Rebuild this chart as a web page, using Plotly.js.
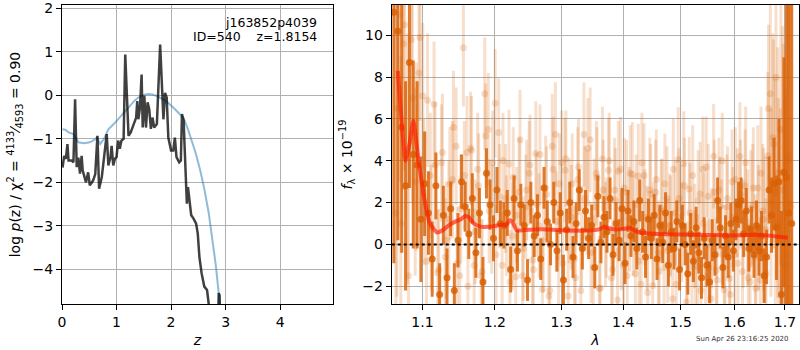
<!DOCTYPE html>
<html>
<head>
<meta charset="utf-8">
<script src="https://cdn.plot.ly/plotly-3.0.1.min.js"></script>
<style>html,body{margin:0;padding:0;background:#fff;}#chart{width:800px;height:350px;}</style>
</head>
<body>
<div id="chart"></div>
<script>
// ---- Left panel: redshift probability ----
const blueZ = [0.01,0.06,0.12,0.21,0.30,0.40,0.51,0.60,0.64,0.70,0.77,0.85,0.95,1.06,1.15,1.25,1.33,1.40,1.50,1.58,1.66,1.73,1.80,1.90,2.04,2.14,2.23,2.31,2.38,2.45,2.53,2.61,2.69,2.76,2.82,2.87,2.91];
const blueLogP = [-0.78,-0.79,-0.85,-0.89,-1.08,-1.10,-1.08,-1.02,-0.97,-1.12,-1.00,-0.78,-0.66,-0.51,-0.38,-0.24,-0.12,-0.05,0.01,0.03,0.02,-0.01,-0.05,-0.12,-0.28,-0.40,-0.52,-0.78,-1.04,-1.32,-1.70,-2.15,-2.70,-3.30,-3.90,-4.50,-5.10];

const darkZ = [0.01,0.04,0.07,0.10,0.12,0.18,0.21,0.24,0.27,0.30,0.33,0.36,0.38,0.44,0.48,0.51,0.57,0.61,0.65,0.68,0.73,0.77,0.82,0.85,0.89,0.91,0.94,0.97,1.00,1.03,1.06,1.09,1.13,1.16,1.19,1.22,1.26,1.31,1.36,1.38,1.40,1.43,1.46,1.48,1.51,1.54,1.57,1.60,1.63,1.66,1.69,1.74,1.77,1.80,1.84,1.86,1.89,1.92,1.95,2.00,2.04,2.07,2.10,2.15,2.18,2.20,2.23,2.26,2.29,2.31,2.34,2.37,2.41,2.46,2.49,2.52,2.56,2.61,2.66,2.69,2.71,2.86,2.875,2.89,2.90];
const darkLogP = [-1.66,-1.39,-1.46,-1.12,-1.50,-1.50,-1.54,-0.09,-1.65,-1.43,-1.80,-1.39,-1.73,-2.00,-1.77,-2.07,-1.96,-1.81,-0.93,-2.15,-1.88,-1.42,-0.89,-1.61,-1.42,-1.16,-1.61,-1.46,-1.42,-1.04,-1.23,-1.04,-1.00,0.94,-0.05,-0.93,-0.85,-0.66,-0.51,-0.13,-0.55,-0.28,0.48,-0.74,-0.01,-0.74,-0.16,-0.32,-0.77,-0.51,-0.74,-0.66,0.22,1.17,0.03,-0.55,0.06,-0.05,-0.97,-1.27,-1.27,-0.97,-1.42,-1.54,-1.50,-0.43,-0.58,-1.73,-2.49,-2.11,-2.49,-2.76,-2.83,-2.95,-3.18,-3.72,-4.09,-4.40,-4.48,-4.79,-5.30,-5.30,-4.55,-4.60,-5.30];

const zTicks = [0,1,2,3,4];
const logpTicks = [-4,-3,-2,-1,0,1,2];

// ---- Right panel: spectrum ----
const lamDark = [1.063,1.068,1.073,1.078,1.083,1.088,1.093,1.098,1.103,1.108,1.113,1.118,1.123,1.128,1.133,1.138,1.143,1.148,1.153,1.158,1.163,1.168,1.173,1.178,1.183,1.188,1.193,1.198,1.203,1.208,1.213,1.218,1.223,1.228,1.233,1.238,1.243,1.248,1.253,1.258,1.263,1.268,1.273,1.278,1.283,1.288,1.293,1.298,1.303,1.308,1.313,1.318,1.323,1.328,1.333,1.338,1.343,1.348,1.353,1.358,1.363,1.368,1.373,1.378,1.383,1.388,1.393,1.398,1.403,1.408,1.413,1.418,1.423,1.428,1.433,1.438,1.443,1.448,1.453,1.458,1.463,1.468,1.473,1.478,1.483,1.488,1.493,1.498,1.503,1.508,1.513,1.518,1.523,1.528,1.533,1.538,1.543,1.548,1.553,1.558,1.563,1.568,1.573,1.578,1.583,1.588,1.593,1.598,1.603,1.608,1.613,1.618,1.623,1.628,1.633,1.638,1.643,1.648,1.653,1.658,1.663,1.668,1.673,1.678,1.683,1.688,1.693,1.698,1.703,1.708,1.714];
const fluxDark = [11.1,10.2,5.6,2.8,8.7,4.3,3.8,1.2,2.9,1.5,-0.7,2.8,-2.4,1.4,-1.6,1.7,-2.2,0.2,3.0,1.8,0.5,2.2,-0.4,1.5,-1.8,3.4,1.9,0.3,2.6,1.0,0.9,1.5,-1.2,2.2,-0.3,1.9,0.9,-1.7,2.0,0.4,1.4,-0.7,2.7,1.1,0.0,2.0,-0.3,1.5,-1.7,0.7,2.0,-0.6,1.0,2.6,-0.2,1.6,0.3,0.9,-1.1,2.3,0.1,1.3,0.6,2.2,-0.5,1.0,0.2,1.7,-0.9,1.6,0.4,1.1,-0.2,2.1,0.6,-0.6,1.2,0.3,1.4,-0.7,0.9,0.1,1.5,-1.0,0.6,-0.2,1.1,-1.2,0.9,0.0,-1.4,0.5,-0.8,0.8,-0.4,-1.6,0.3,-1.0,-1.8,0.2,-0.5,2.1,0.8,-1.1,0.4,-0.6,1.0,-0.3,1.2,1.9,2.1,0.5,1.6,-0.2,0.7,-0.5,0.9,-0.3,0.4,-1.5,-0.6,2.6,1.4,2.9,0.8,3.0,-2.4,3.45,3.2,1.5,1.0];
const errDark = [12,10,6,5,6,4.5,4,3,2.5,2,1.8,1.6,1.5,1.4,1.4,1.3,1.3,1.3,1.3,1.2,1.2,1.2,1.2,1.2,1.2,1.2,1.2,1.1,1.1,1.1,1.1,1.1,1.1,1.1,1.0,1.0,1.0,1.0,1.0,1.0,1.0,1.0,1.0,1.0,1.0,1.0,1.0,1.0,1.2,1.0,1.0,1.0,1.0,1.0,1.0,1.0,1.0,1.0,1.0,1.0,1.0,1.0,1.0,1.0,1.0,1.0,1.0,1.0,1.0,1.0,1.0,1.0,1.0,1.0,1.0,1.0,1.0,1.0,1.0,1.0,1.0,1.0,1.0,1.0,1.0,1.0,1.0,1.0,1.0,1.0,1.0,1.0,1.0,1.0,1.0,1.0,1.0,1.0,1.0,1.0,1.0,1.1,1.0,1.0,1.0,1.0,1.0,1.0,1.0,1.1,1.1,1.1,1.1,1.1,1.1,1.1,1.2,1.2,1.2,1.3,1.3,1.6,1.8,2.2,2.5,3.0,4.0,5.5,12,15,20];

const lamLight = [1.0655,1.0705,1.0755,1.0805,1.0855,1.0905,1.0955,1.1005,1.1055,1.1105,1.1155,1.1205,1.1255,1.1305,1.1355,1.1405,1.1455,1.1505,1.1555,1.1605,1.1655,1.1705,1.1755,1.1805,1.1855,1.1905,1.1955,1.2005,1.2055,1.2105,1.2155,1.2205,1.2255,1.2305,1.2355,1.2405,1.2455,1.2505,1.2555,1.2605,1.2655,1.2705,1.2755,1.2805,1.2855,1.2905,1.2955,1.3005,1.3055,1.3105,1.3155,1.3205,1.3255,1.3305,1.3355,1.3405,1.3455,1.3505,1.3555,1.3605,1.3655,1.3705,1.3755,1.3805,1.3855,1.3905,1.3955,1.4005,1.4055,1.4105,1.4155,1.4205,1.4255,1.4305,1.4355,1.4405,1.4455,1.4505,1.4555,1.4605,1.4655,1.4705,1.4755,1.4805,1.4855,1.4905,1.4955,1.5005,1.5055,1.5105,1.5155,1.5205,1.5255,1.5305,1.5355,1.5405,1.5455,1.5505,1.5555,1.5605,1.5655,1.5705,1.5755,1.5805,1.5855,1.5905,1.5955,1.6005,1.6055,1.6105,1.6155,1.6205,1.6255,1.6305,1.6355,1.6405,1.6455,1.6505,1.6555,1.6605,1.6655,1.6705,1.6755,1.6805,1.6855,1.6905,1.6955,1.7005,1.7055,1.7105];
const fluxLight = [1.5,11.0,9.6,4.1,9.8,3.0,8.2,7.1,-0.8,3.3,6.7,-1.35,3.9,-0.6,1.2,3.1,4.7,-1.5,9.4,4.4,4.6,-1.0,3.6,-1.5,7.2,5.5,1.2,6.75,5.35,-1.0,2.2,3.84,0.4,-1.55,2.5,-1.5,1.8,3.4,-0.75,4.35,0.9,-2.15,2.7,-2.47,4.7,5.26,-0.6,3.9,3.55,-2.47,1.3,-0.67,3.1,-2.2,5.26,2.0,5.0,-1.1,3.4,-2.1,4.08,0.5,3.55,-1.6,2.6,-2.66,3.6,-1.0,2.5,1.2,3.35,-1.4,3.27,-1.9,3.3,0.3,2.6,-1.98,2.5,-0.4,1.6,-1.1,2.2,0.9,-2.6,1.5,4.06,1.32,3.87,-2.75,2.65,-1.07,0.4,-1.07,2.41,3.6,-1.55,2.3,-2.6,4.22,-1.22,2.6,0.6,-2.17,1.8,-1.62,3.0,-0.5,2.0,4.2,-1.3,2.8,0.8,-1.8,1.9,-0.6,2.7,-1.7,1.6,0.7,4.24,7.2,5.1,2.44,3.43,0.5,3.43,-1.0,4.0,2.0];
const errLight = [10,8,7,6,5,4.5,4,3.5,3.2,3,3,3,2.8,2.8,2.8,2.8,2.8,2.7,2.8,2.7,2.7,2.7,2.7,2.7,2.7,2.7,2.6,2.6,2.6,2.6,2.6,2.6,2.6,2.6,2.6,2.6,2.5,2.5,2.5,2.5,2.5,2.5,2.5,2.5,2.5,2.5,2.5,2.5,2.5,2.5,2.5,2.5,2.5,2.5,2.5,2.5,2.5,2.5,2.5,2.5,2.5,2.5,2.5,2.5,2.5,2.5,2.5,2.5,2.5,2.5,2.5,2.5,2.5,2.5,2.5,2.5,2.5,2.5,2.5,2.5,2.5,2.5,2.5,2.5,2.5,2.5,2.5,2.5,2.5,2.5,2.5,2.5,2.5,2.5,2.5,2.5,2.5,2.5,2.5,2.5,2.5,2.5,2.5,2.5,2.5,2.5,2.5,2.5,2.6,2.6,2.6,2.7,2.8,2.8,2.9,3,3,3,3.2,3.5,4,4.5,5,5.5,6,6,7,8,10,12];

const lamLight2 = [1.0668,1.0718,1.0768,1.0818,1.0868,1.0918,1.0968,1.1018,1.1068,1.1118,1.1168,1.1218,1.1268,1.1318,1.1368,1.1418,1.1468,1.1518,1.1568,1.1618,1.1668,1.1718,1.1768,1.1818,1.1868,1.1918,1.1968,1.2018,1.2068,1.2118,1.2168,1.2218,1.2268,1.2318,1.2368,1.2418,1.2468,1.2518,1.2568,1.2618,1.2668,1.2718,1.2768,1.2818,1.2868,1.2918,1.2968,1.3018,1.3068,1.3118,1.3168,1.3218,1.3268,1.3318,1.3368,1.3418,1.3468,1.3518,1.3568,1.3618,1.3668,1.3718,1.3768,1.3818,1.3868,1.3918,1.3968,1.4018,1.4068,1.4118,1.4168,1.4218,1.4268,1.4318,1.4368,1.4418,1.4468,1.4518,1.4568,1.4618,1.4668,1.4718,1.4768,1.4818,1.4868,1.4918,1.4968,1.5018,1.5068,1.5118,1.5168,1.5218,1.5268,1.5318,1.5368,1.5418,1.5468,1.5518,1.5568,1.5618,1.5668,1.5718,1.5768,1.5818,1.5868,1.5918,1.5968,1.6018,1.6068,1.6118,1.6168,1.6218,1.6268,1.6318,1.6368,1.6418,1.6468,1.6518,1.6568,1.6618,1.6668,1.6718,1.6768,1.6818,1.6868,1.6918,1.6968,1.7018,1.7068,1.7118];
const fluxLight2 = [6.5,1.0,10.5,-1.5,7.0,4.2,9.9,
  2.5,6.9,0.8,3.8,-1.2,4.4,0.2,2.9,5.6,-0.9,1.7,3.3,-2.0,4.5,0.6,2.8,-1.3,5.2,1.6,3.9,
  -0.5,2.3,4.0,0.9,-1.8,3.2,1.4,5.0,-0.2,2.6,3.8,-1.2,1.9,4.3,0.1,2.4,-2.2,3.6,1.1,2.9,
  -0.9,4.1,1.6,2.9,-1.6,3.7,0.4,2.2,4.6,-0.4,1.8,3.2,-2.1,2.6,0.8,4.0,-1.2,2.1,3.5,0.2,
  2.7,-1.5,3.4,0.9,1.9,-0.8,3.9,1.3,-2.3,2.4,0.5,3.1,-1.3,1.7,2.9,-0.3,0.9,3.6,-1.9,2.2,
  0.6,2.8,-1.4,1.5,3.3,-0.7,2.1,-2.2,1.0,3.7,-1.1,0.3,2.5,-1.7,1.8,4.0,-0.5,2.2,-2.4,1.3,
  3.1,-0.9,2.4,0.5,3.9,-1.6,1.7,2.7,-2.1,0.8,3.4,1.2,-1.4,6.5,2.0,4.8,8.0,1.0,5.5,2.6,
  -0.5,4.2,1.8];
const errLight2 = [9,8,7,6,5,4.5,4,
  3.5,3.2,3,3,2.9,2.8,2.8,2.7,2.7,2.7,2.6,2.6,2.6,2.6,2.5,2.5,2.5,2.5,2.5,2.5,
  2.4,2.5,2.3,2.4,2.5,2.4,2.3,2.4,2.5,2.4,2.4,2.3,2.5,2.4,2.4,2.3,2.4,2.5,2.4,2.4,
  2.4,2.3,2.5,2.4,2.4,2.3,2.4,2.5,2.4,2.4,2.3,2.4,2.5,2.4,2.4,2.3,2.4,2.5,2.4,2.4,
  2.4,2.5,2.3,2.4,2.4,2.5,2.4,2.3,2.4,2.4,2.5,2.4,2.3,2.4,2.4,2.5,2.4,2.4,2.3,2.4,
  2.4,2.3,2.5,2.4,2.4,2.3,2.4,2.5,2.4,2.4,2.3,2.4,2.5,2.4,2.4,2.3,2.4,2.5,2.4,2.4,
  2.5,2.5,2.6,2.6,2.7,2.8,2.8,2.9,3,3,3.2,3.4,3.6,4,4.5,5,5.5,6,6.5,7,
  8,10,12];

const lamModel = [1.068,1.073,1.078,1.083,1.088,1.095,1.103,1.110,1.120,1.128,1.135,1.145,1.152,1.158,1.163,1.170,1.180,1.190,1.200,1.210,1.216,1.222,1.226,1.232,1.250,1.270,1.300,1.340,1.360,1.368,1.375,1.385,1.395,1.405,1.411,1.420,1.430,1.460,1.500,1.550,1.600,1.640,1.655,1.670,1.690,1.706];
const fluxModel = [8.3,5.8,4.0,4.8,5.9,4.0,2.1,1.0,0.57,0.70,0.90,1.10,1.20,1.36,1.30,1.00,0.85,0.84,0.88,0.95,0.92,1.15,1.05,0.68,0.70,0.72,0.68,0.66,0.72,0.84,0.78,0.72,0.72,0.76,0.80,0.65,0.56,0.50,0.47,0.45,0.43,0.46,0.44,0.42,0.36,0.32];

const lamTicks = [1.1,1.2,1.3,1.4,1.5,1.6,1.7];
const fluxTicks = [-2,0,2,4,6,8,10];

const FONT = 'DejaVu Sans, sans-serif';
const orangeDark = 'rgba(217,95,2,0.82)';
const orangeLight = 'rgba(217,95,2,0.2)';

function lightTrace(xs, ys, es) {
  return {x: xs, y: ys, xaxis:'x2', yaxis:'y2', mode:'markers', marker:{color:orangeLight, size:7, line:{width:0}},
    error_y:{type:'data', array: es, visible:true, color:orangeLight, thickness:3, width:0}};
}

const traces = [
  {x: blueZ, y: blueLogP, xaxis:'x', yaxis:'y', mode:'lines', line:{color:'rgba(31,119,180,0.5)', width:2}},
  {x: darkZ, y: darkLogP, xaxis:'x', yaxis:'y', mode:'lines', line:{color:'rgba(0,0,0,0.75)', width:2.5}},
  lightTrace(lamLight, fluxLight, errLight),
  lightTrace(lamLight2, fluxLight2, errLight2),
  {x: lamDark, y: fluxDark, xaxis:'x2', yaxis:'y2', mode:'markers', marker:{color:orangeDark, size:7, line:{width:0}},
   error_y:{type:'data', array: errDark, visible:true, color:orangeDark, thickness:3, width:0}},
  {x: lamModel, y: fluxModel, xaxis:'x2', yaxis:'y2', mode:'lines', line:{color:'rgba(255,25,0,0.65)', width:4, shape:'spline', smoothing:0.5}}
];

const axBase = {showline:true, linecolor:'#000', linewidth:1, mirror:true, ticks:'outside', ticklen:5, tickcolor:'#000',
  showgrid:true, gridcolor:'#b0b0b0', gridwidth:1, zeroline:false, ticklabeloverflow:'allow',
  tickfont:{family:FONT, size:14, color:'#000'}};

const layout = {
  width:800, height:350, margin:{l:62, r:1, t:5, b:46},
  paper_bgcolor:'#fff', plot_bgcolor:'#fff', showlegend:false,
  font:{family:FONT, size:14, color:'#000'},
  xaxis: Object.assign({}, axBase, {domain:[0,0.3677], range:[0,4.97], tickvals:zTicks, anchor:'y',
    title:{text:'<i>z</i>', font:{family:FONT, size:14}, standoff:6}}),
  yaxis: Object.assign({}, axBase, {domain:[0,1], range:[-4.8,2.08], tickvals:logpTicks, anchor:'x',
    title:{text:'log <i>p</i>(z) / χ<sup>2</sup> = <sup>4133</sup>⁄<sub>4593</sub> = 0.90', font:{family:FONT, size:14}, standoff:8}}),
  xaxis2: Object.assign({}, axBase, {domain:[0.4474,1], type:'log', range:[0.0254,0.2378], tickvals:lamTicks, ticktext:lamTicks.map(String), anchor:'y2',
    title:{text:'<i>λ</i>', font:{family:FONT, size:14}, standoff:6}}),
  yaxis2: Object.assign({}, axBase, {domain:[0,1], range:[-2.85,11.45], tickvals:fluxTicks, anchor:'x2',
    title:{text:'<i>f</i><sub>λ</sub> × 10<sup>−19</sup>', font:{family:FONT, size:14}, standoff:6}}),
  shapes:[{type:'line', xref:'x2 domain', x0:0, x1:1, yref:'y2', y0:0, y1:0, line:{color:'#000', width:2, dash:'dot'}}],
  annotations:[
    {xref:'x domain', yref:'y domain', x:0.948, y:0.943, xanchor:'right', yanchor:'middle', showarrow:false, text:'j163852p4039', font:{family:FONT, size:12.5, color:'#000'}},
    {xref:'x domain', yref:'y domain', x:0.948, y:0.893, xanchor:'right', yanchor:'middle', showarrow:false, text:'ID=540    z=1.8154', font:{family:FONT, size:12.5, color:'#000'}},
    {xref:'paper', yref:'paper', x:0.9227, y:-0.117, xanchor:'center', yanchor:'middle', showarrow:false, text:'Sun Apr 26 23:16:25 2020', font:{family:FONT, size:7, color:'#333'}}
  ]
};

Plotly.newPlot('chart', traces, layout, {staticPlot:true, displayModeBar:false});
</script>
</body>
</html>
